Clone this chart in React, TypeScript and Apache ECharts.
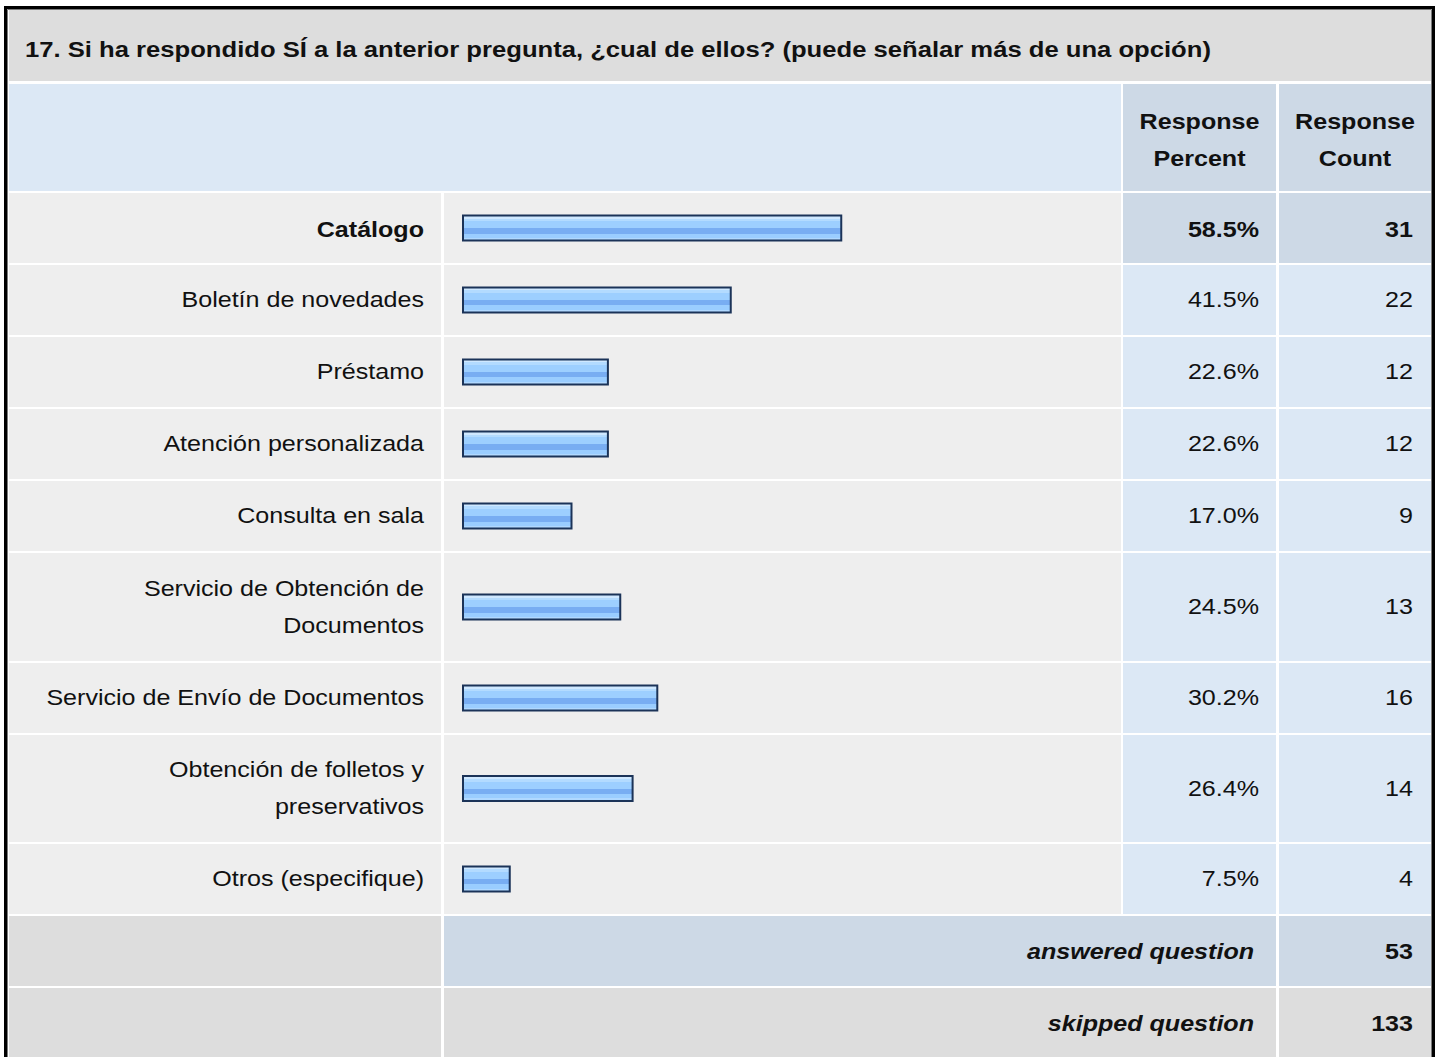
import React, { useEffect, useRef } from "react";
import * as echarts from "echarts";

const title =
  "17. Si ha respondido SÍ a la anterior pregunta, ¿cual de ellos? (puede señalar más de una opción)";
const headerPercent = "Response\nPercent";
const headerCount = "Response\nCount";
const categories = [
  "Catálogo",
  "Boletín de novedades",
  "Préstamo",
  "Atención personalizada",
  "Consulta en sala",
  "Servicio de Obtención de\nDocumentos",
  "Servicio de Envío de Documentos",
  "Obtención de folletos y\npreservativos",
  "Otros (especifique)",
];
const responsePercent = [58.5, 41.5, 22.6, 22.6, 17.0, 24.5, 30.2, 26.4, 7.5];
const responseCount = [31, 22, 12, 12, 9, 13, 16, 14, 4];
const answeredLabel = "answered question";
const answeredQuestion = 53;
const skippedLabel = "skipped question";
const skippedQuestion = 133;

const FONT = '"Liberation Sans", Arial, Helvetica, sans-serif';
const SX = 1.14;
const FS = 22;

const C_TITLE = "#dddddd";
const C_CELL = "#eeeeee";
const C_BLUE = "#dce8f5";
const C_BLUE_DARK = "#cdd9e6";

function rect(x: number, y: number, w: number, h: number, fill: string) {
  return { type: "rect", z: 0, silent: true, shape: { x, y, width: w, height: h }, style: { fill } };
}

function txt(
  x: number,
  y: number,
  text: string,
  align: string,
  bold = false,
  italic = false,
  sx = SX
) {
  return {
    type: "text",
    x,
    y,
    scaleX: sx,
    z: 10,
    silent: true,
    style: {
      text,
      fill: "#111111",
      fontFamily: FONT,
      fontSize: FS,
      fontWeight: bold ? "bold" : "normal",
      fontStyle: italic ? "italic" : "normal",
      align,
      verticalAlign: "middle",
      lineHeight: 37,
    },
  };
}

export default function App() {
  const ref = useRef<HTMLDivElement>(null);

  useEffect(() => {
    if (!ref.current) return;
    const chart = echarts.init(ref.current, null, { renderer: "svg" });

    // column geometry
    const colLabel = [9, 441];
    const colBar = [444, 1121];
    const colPct = [1123, 1276];
    const colCnt = [1279, 1431];
    const gap = 2;

    const maxIdx = responsePercent.indexOf(Math.max(...responsePercent));

    const rowTops: number[] = [];
    const rowHeights: number[] = [];
    let y = 193;
    categories.forEach((c) => {
      const h = c.split("\n").length > 1 ? 107.5 : 70;
      const top = Math.round(y);
      const bottom = Math.round(y + h);
      rowTops.push(top);
      rowHeights.push(bottom - top);
      y += h + gap;
    });
    const ansTop = Math.round(y);
    const skipTop = ansTop + 70 + gap;

    const graphics: any[] = [];
    // outer border
    graphics.push({
      type: "rect",
      z: 20,
      silent: true,
      shape: { x: 5.5, y: 7.5, width: 1428, height: 1070 },
      style: { fill: "none", stroke: "#000000", lineWidth: 3 },
    });
    graphics.push({
      type: "rect",
      z: 20,
      silent: true,
      shape: { x: 7.5, y: 9.5, width: 1424, height: 1070 },
      style: { fill: "none", stroke: "#7a7a7a", lineWidth: 1 },
    });

    // title row
    graphics.push(rect(9, 9, 1422, 72, C_TITLE));
    graphics.push(txt(25, 49, title, "left", true, false, 1.165));

    // header row
    graphics.push(rect(9, 84, colBar[1] - 9, 107, C_BLUE));
    graphics.push(rect(colPct[0], 84, colPct[1] - colPct[0], 107, C_BLUE_DARK));
    graphics.push(rect(colCnt[0], 84, colCnt[1] - colCnt[0], 107, C_BLUE_DARK));
    graphics.push(txt((colPct[0] + colPct[1]) / 2, 140, headerPercent, "center", true));
    graphics.push(txt((colCnt[0] + colCnt[1]) / 2, 140, headerCount, "center", true));

    // data rows
    categories.forEach((c, i) => {
      const t = rowTops[i];
      const h = rowHeights[i];
      const cy = t + h / 2 + (i === 0 ? 2 : 0);
      const hi = i === maxIdx;
      const blue = hi ? C_BLUE_DARK : C_BLUE;
      graphics.push(rect(colLabel[0], t, colLabel[1] - colLabel[0], h, C_CELL));
      graphics.push(rect(colBar[0], t, colBar[1] - colBar[0], h, C_CELL));
      graphics.push(rect(colPct[0], t, colPct[1] - colPct[0], h, blue));
      graphics.push(rect(colCnt[0], t, colCnt[1] - colCnt[0], h, blue));
      graphics.push(txt(424, cy, c, "right", hi));
      graphics.push(txt(1259, cy, responsePercent[i].toFixed(1) + "%", "right", hi));
      graphics.push(txt(1413, cy, String(responseCount[i]), "right", hi));
    });

    // answered row
    graphics.push(rect(colLabel[0], ansTop, colLabel[1] - colLabel[0], 70, C_TITLE));
    graphics.push(rect(colBar[0], ansTop, colPct[1] - colBar[0], 70, C_BLUE_DARK));
    graphics.push(rect(colCnt[0], ansTop, colCnt[1] - colCnt[0], 70, C_BLUE_DARK));
    graphics.push(txt(1254, ansTop + 36, answeredLabel, "right", true, true));
    graphics.push(txt(1413, ansTop + 36, String(answeredQuestion), "right", true));

    // skipped row
    graphics.push(rect(colLabel[0], skipTop, colLabel[1] - colLabel[0], 80, C_TITLE));
    graphics.push(rect(colBar[0], skipTop, colPct[1] - colBar[0], 80, C_TITLE));
    graphics.push(rect(colCnt[0], skipTop, colCnt[1] - colCnt[0], 80, C_TITLE));
    graphics.push(txt(1254, skipTop + 36, skippedLabel, "right", true, true));
    graphics.push(txt(1413, skipTop + 36, String(skippedQuestion), "right", true));

    const barGradient = {
      type: "linear",
      x: 0,
      y: 0,
      x2: 0,
      y2: 1,
      colorStops: [
        { offset: 0, color: "#cfe8ff" },
        { offset: 0.12, color: "#cfe8ff" },
        { offset: 0.12, color: "#b3dbff" },
        { offset: 0.22, color: "#b3dbff" },
        { offset: 0.22, color: "#9dcfff" },
        { offset: 0.5, color: "#9dcfff" },
        { offset: 0.5, color: "#78adf2" },
        { offset: 0.72, color: "#78adf2" },
        { offset: 0.72, color: "#9acdff" },
        { offset: 0.9, color: "#9acdff" },
        { offset: 0.9, color: "#b0d8ff" },
        { offset: 1, color: "#b0d8ff" },
      ],
    };

    const grids = categories.map((_, i) => ({
      left: 462,
      top: rowTops[i],
      width: 650,
      height: rowHeights[i],
      containLabel: false,
    }));
    const xAxes = categories.map((_, i) => ({
      gridIndex: i,
      type: "value",
      min: 0,
      max: 100,
      show: false,
    }));
    const yAxes = categories.map((c, i) => ({
      gridIndex: i,
      type: "category",
      data: [c],
      show: false,
    }));
    const series = categories.map((c, i) => ({
      type: "bar",
      name: c,
      xAxisIndex: i,
      yAxisIndex: i,
      data: [responsePercent[i]],
      barWidth: 27,
      z: 5,
      silent: true,
      itemStyle: {
        color: barGradient,
        borderColor: "#1b3358",
        borderWidth: 2,
      },
    }));

    chart.setOption({
      animation: false,
      backgroundColor: "#ffffff",
      grid: grids,
      xAxis: xAxes,
      yAxis: yAxes,
      series,
      graphic: { elements: graphics },
    });

    return () => chart.dispose();
  }, []);

  return (
    <div
      ref={ref}
      style={{ position: "absolute", left: 0, top: 0, width: 1440, height: 1057 }}
    />
  );
}
